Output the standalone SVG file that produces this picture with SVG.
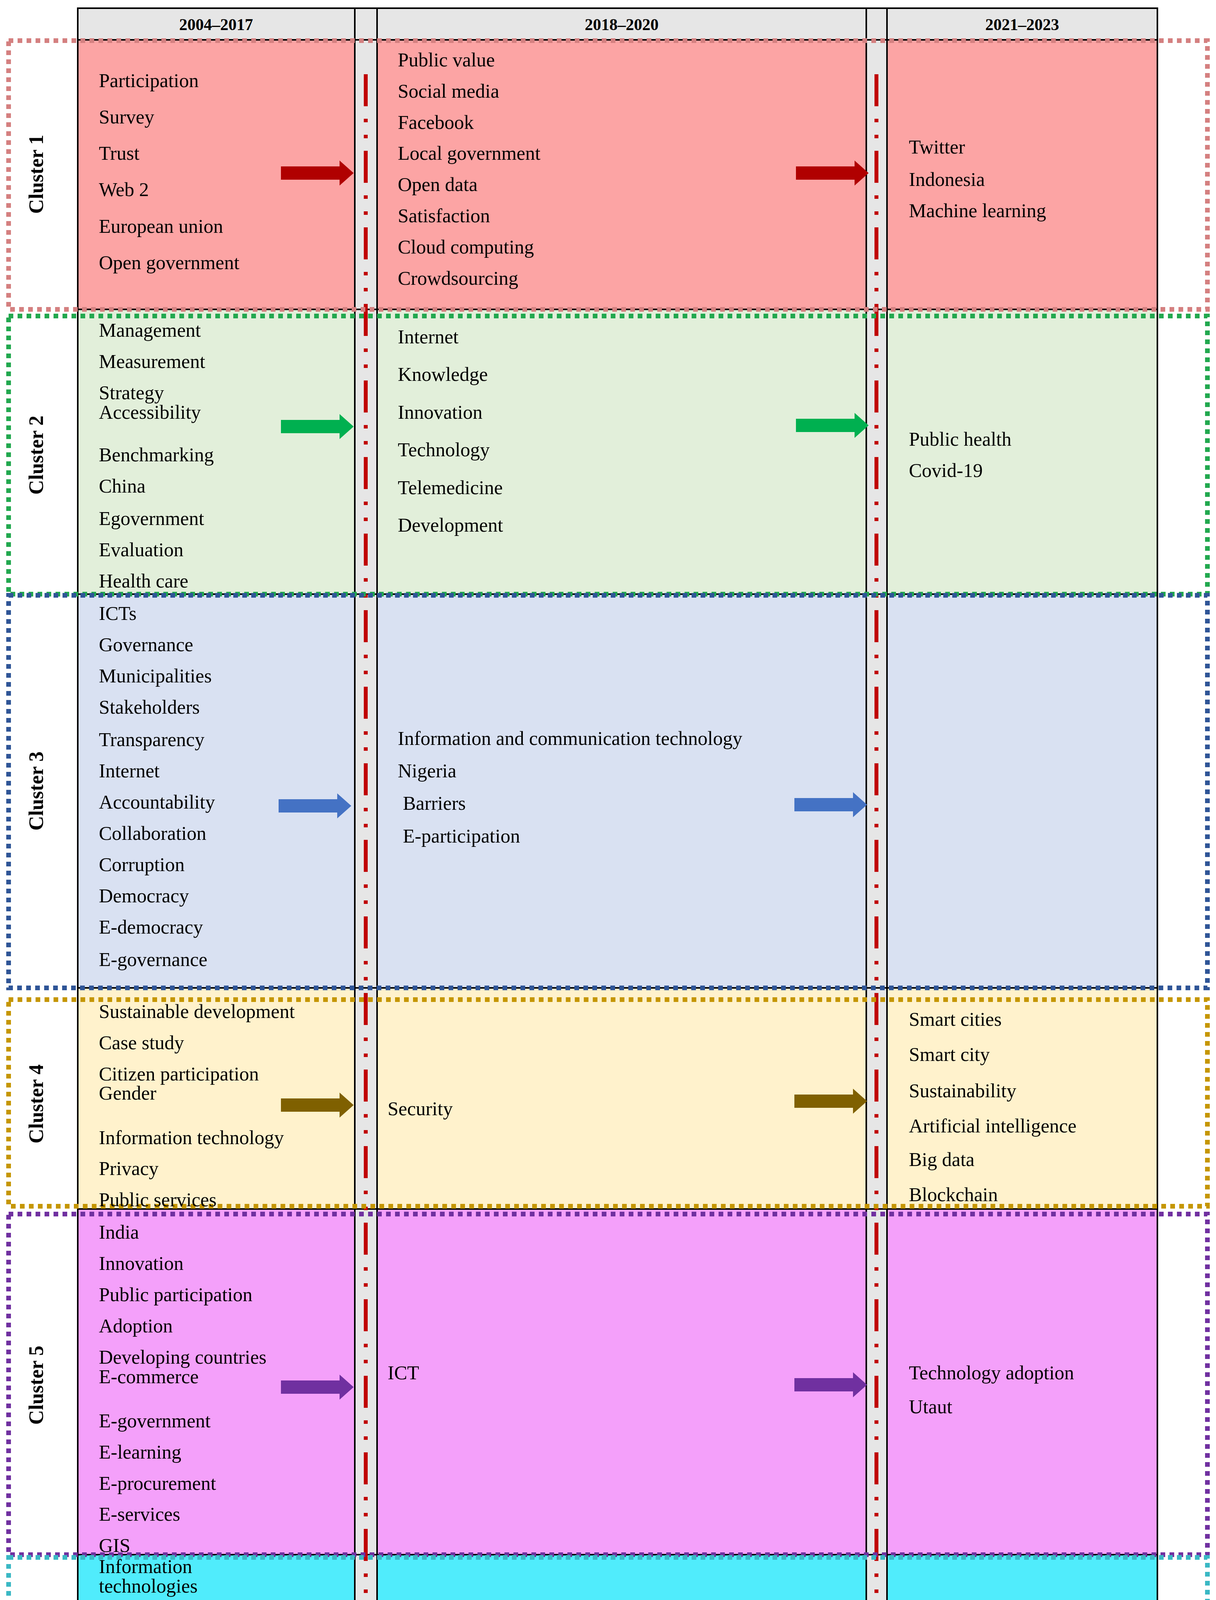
<svg xmlns="http://www.w3.org/2000/svg" width="3112" height="5215" viewBox="0 0 3112 5215">
<style>
text{font-family:"Liberation Serif",serif;font-size:50px;fill:#000}
.h{font-weight:bold;font-size:42px;text-anchor:middle}
.cl{font-weight:bold;font-size:52px;text-anchor:middle}
.ln{stroke:#000;stroke-width:4;fill:none}
.dv{stroke:#c00000;stroke-width:10;stroke-dasharray:82 32 9 32 9 32;fill:none}
.ol{fill:none;stroke-width:12;stroke-dasharray:12 11}
</style>
<defs>
<path id="ar" d="M0,-17 H150 V-32 L186,0 L150,32 V17 H0 Z"/>
</defs>
<g id="background">
<rect x="199" y="21" width="2763" height="81" fill="#e6e6e6"/>
<rect x="199" y="102" width="2763" height="690" fill="#fca4a4"/>
<rect x="199" y="792" width="2763" height="729" fill="#e2efda"/>
<rect x="199" y="1521" width="2763" height="1008" fill="#d9e1f2"/>
<rect x="199" y="2529" width="2763" height="566" fill="#fff2cc"/>
<rect x="199" y="3095" width="2763" height="885" fill="#f4a0fa"/>
<rect x="199" y="3980" width="2763" height="806" fill="#50ecfc"/>
<rect x="199" y="4786" width="2763" height="406" fill="#f8cbad"/>
<rect x="908" y="21" width="57" height="5171" fill="#e6e6e6"/>
<rect x="2217" y="21" width="53" height="5171" fill="#e6e6e6"/>
<rect x="199" y="21" width="2763" height="5171" class="ln"/>
<path class="ln" d="M908,21V5192M965,21V5192M2217,21V5192M2270,21V5192M199,102H2962M199,792H2962M199,1521H2962M199,2529H2962M199,3095H2962M199,3980H2962M199,4786H2962"/>
<path class="dv" d="M936,190V5190M2243,190V5190"/>
</g>
<g id="header">
<text class="h" x="553" y="77">2004–2017</text>
<text class="h" x="1591" y="77">2018–2020</text>
<text class="h" x="2616" y="77">2021–2023</text>
</g>
<g id="connectors">
<use href="#ar" x="719" y="443" fill="#b00000"/><use href="#ar" x="2037" y="443" fill="#b00000"/>
<use href="#ar" x="719" y="1092" fill="#00b050"/><use href="#ar" x="2037" y="1089" fill="#00b050"/>
<use href="#ar" x="713" y="2063" fill="#4472c4"/><use href="#ar" x="2033" y="2060" fill="#4472c4"/>
<use href="#ar" x="719" y="2829" fill="#7f6000"/><use href="#ar" x="2033" y="2819" fill="#7f6000"/>
<use href="#ar" x="719" y="3551" fill="#7030a0"/><use href="#ar" x="2033" y="3545" fill="#7030a0"/>
<use href="#ar" x="719" y="4380" fill="#31849b"/><use href="#ar" x="2033" y="4373" fill="#31849b"/>
<use href="#ar" x="719" y="4985" fill="#c55a11"/><use href="#ar" x="2037" y="4985" fill="#c55a11"/>
</g>
<g id="cluster1">
<rect class="ol" x="22" y="104" width="3068" height="688" stroke="#d48080"/>
<text class="cl" transform="translate(110,446) rotate(-90)">Cluster 1</text>
<text x="253" y="223">Participation</text><text x="253" y="316">Survey</text><text x="253" y="409">Trust</text><text x="253" y="502">Web 2</text><text x="253" y="596">European union</text><text x="253" y="689">Open government</text>
<text x="1018" y="170">Public value</text><text x="1018" y="250">Social media</text><text x="1018" y="330">Facebook</text><text x="1018" y="409">Local government</text><text x="1018" y="489">Open data</text><text x="1018" y="569">Satisfaction</text><text x="1018" y="649">Cloud computing</text><text x="1018" y="729">Crowdsourcing</text>
<text x="2326" y="393">Twitter</text><text x="2326" y="476">Indonesia</text><text x="2326" y="556">Machine learning</text>
</g>
<g id="cluster2">
<rect class="ol" x="22" y="809" width="3068" height="712" stroke="#22a84f"/>
<text class="cl" transform="translate(110,1165) rotate(-90)">Cluster 2</text>
<text x="253" y="862">Management</text><text x="253" y="942">Measurement</text><text x="253" y="1022">Strategy</text><text x="253" y="1072">Accessibility</text><text x="253" y="1181">Benchmarking</text><text x="253" y="1261">China</text><text x="253" y="1344">Egovernment</text><text x="253" y="1424">Evaluation</text><text x="253" y="1504">Health care</text>
<text x="1018" y="879">Internet</text><text x="1018" y="975">Knowledge</text><text x="1018" y="1072">Innovation</text><text x="1018" y="1168">Technology</text><text x="1018" y="1265">Telemedicine</text><text x="1018" y="1361">Development</text>
<text x="2326" y="1141">Public health</text><text x="2326" y="1221">Covid-19</text>
</g>
<g id="cluster3">
<rect class="ol" x="22" y="1524" width="3068" height="1005" stroke="#2f5597"/>
<text class="cl" transform="translate(110,2025) rotate(-90)">Cluster 3</text>
<text x="253" y="1587">ICTs</text><text x="253" y="1667">Governance</text><text x="253" y="1747">Municipalities</text><text x="253" y="1827">Stakeholders</text><text x="253" y="1910">Transparency</text><text x="253" y="1990">Internet</text><text x="253" y="2070">Accountability</text><text x="253" y="2150">Collaboration</text><text x="253" y="2230">Corruption</text><text x="253" y="2310">Democracy</text><text x="253" y="2390">E-democracy</text><text x="253" y="2473">E-governance</text>
<text x="1018" y="1907">Information and communication technology</text><text x="1018" y="1990">Nigeria</text><text x="1031" y="2073">Barriers</text><text x="1031" y="2157">E-participation</text>
</g>
<g id="cluster4">
<rect class="ol" x="22" y="2559" width="3068" height="529" stroke="#c59600"/>
<text class="cl" transform="translate(110,2826) rotate(-90)">Cluster 4</text>
<text x="253" y="2606">Sustainable development</text><text x="253" y="2686">Case study</text><text x="253" y="2766">Citizen participation</text><text x="253" y="2815">Gender</text><text x="253" y="2929">Information technology</text><text x="253" y="3008">Privacy</text><text x="253" y="3088">Public services</text>
<text x="992" y="2855">Security</text>
<text x="2326" y="2626">Smart cities</text><text x="2326" y="2716">Smart city</text><text x="2326" y="2809">Sustainability</text><text x="2326" y="2899">Artificial intelligence</text><text x="2326" y="2985">Big data</text><text x="2326" y="3075">Blockchain</text>
</g>
<g id="cluster5">
<rect class="ol" x="22" y="3108" width="3068" height="872" stroke="#7030a0"/>
<text class="cl" transform="translate(110,3546) rotate(-90)">Cluster 5</text>
<text x="253" y="3171">India</text><text x="253" y="3251">Innovation</text><text x="253" y="3331">Public participation</text><text x="253" y="3411">Adoption</text><text x="253" y="3491">Developing countries</text><text x="253" y="3541">E-commerce</text><text x="253" y="3654">E-government</text><text x="253" y="3734">E-learning</text><text x="253" y="3814">E-procurement</text><text x="253" y="3893">E-services</text><text x="253" y="3973">GIS</text>
<text x="992" y="3531">ICT</text>
<text x="2326" y="3531">Technology adoption</text><text x="2326" y="3618">Utaut</text>
</g>
<g id="cluster6">
<rect class="ol" x="22" y="3987" width="3068" height="799" stroke="#3ab8c4"/>
<text class="cl" transform="translate(110,4386) rotate(-90)">Cluster 6</text>
<text x="253" y="4027">Information</text><text x="253" y="4077">technologies</text><text x="253" y="4156">Policy</text><text x="253" y="4236">Public policy</text><text x="253" y="4316">Africa</text><text x="253" y="4366">Australia</text><text x="253" y="4476">Digital divide</text><text x="253" y="4559">Digital inclusion</text><text x="253" y="4639">Education</text><text x="253" y="4719">Government</text><text x="253" y="4769">Information society</text>
<text x="992" y="4373">Economic growth</text>
<text x="2300" y="4373">Digital technology</text>
</g>
<g id="cluster7">
<rect class="ol" x="22" y="4796" width="3068" height="396" stroke="#f08a1e"/>
<text class="cl" transform="translate(110,4994) rotate(-90)">Cluster 7</text>
<text x="253" y="4852">Institutional theory</text><text x="253" y="4932">Public administration</text><text x="253" y="4982">Public sector</text><text x="253" y="5092">Social networks</text><text x="253" y="5175">Electronic government</text>
<text x="1018" y="4959">Digital economy</text><text x="1018" y="5039">Information and communication technologies</text>
<text x="2326" y="4892">Digital government</text><text x="2326" y="4972">Digital transformation</text><text x="2326" y="5052">Digitalization</text><text x="2326" y="5132">Digitization</text>
</g>
</svg>
